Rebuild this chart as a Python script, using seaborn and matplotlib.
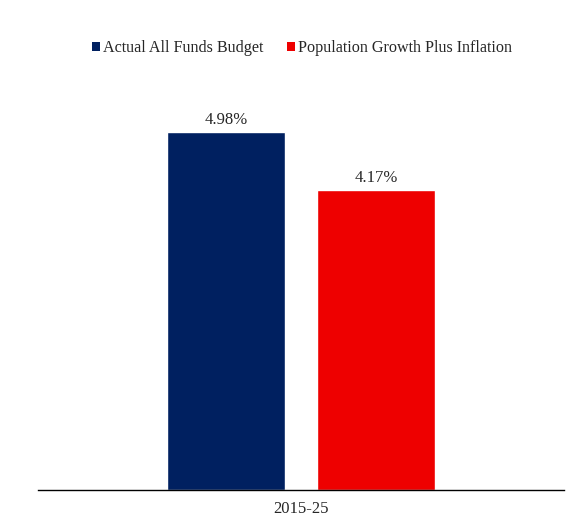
import matplotlib
matplotlib.use("Agg")
import matplotlib.pyplot as plt
import seaborn as sns
import pandas as pd
from matplotlib.patches import Patch

categories = ["2015-25"]
series = ["Actual All Funds Budget", "Population Growth Plus Inflation"]
values = [4.98, 4.17]
colors = ["#002060", "#EE0000"]

df = pd.DataFrame({"period": categories * len(series), "series": series, "value": values})

sns.set_theme(style="white")
plt.rcParams["font.family"] = ["Liberation Serif", "DejaVu Serif"]

fig = plt.figure(figsize=(5.74, 5.30), dpi=100)
ax = fig.add_axes([38/574, 1 - 490/530, 526/574, (490 - 59)/530])

sns.barplot(data=df, x="period", y="value", hue="series", palette=colors,
            gap=0.213, width=0.8, ax=ax, legend=False, saturation=1)

for c in ax.containers:
    ax.bar_label(c, labels=[f"{v:.2f}%" for v in c.datavalues], padding=3, fontsize=12)

ax.set_ylim(0, 6)
ax.set_xlim(-0.7013, 0.7013)
ax.set_xlabel("")
ax.set_ylabel("")
ax.set_yticks([])
ax.tick_params(axis="x", length=0, labelsize=12, pad=8)
for s in ["top", "left", "right"]:
    ax.spines[s].set_visible(False)
ax.spines["bottom"].set_color("black")
ax.spines["bottom"].set_linewidth(1)

handles = [Patch(facecolor=c, edgecolor="none") for c in colors]
fig.legend(handles, series, loc="center", bbox_to_anchor=(302/574, 1 - 48/530), ncol=2,
           frameon=False, fontsize=11.6, handlelength=0.5, handleheight=0.5,
           handletextpad=0.15, columnspacing=1.5)

fig.savefig("out.png", dpi=100)
